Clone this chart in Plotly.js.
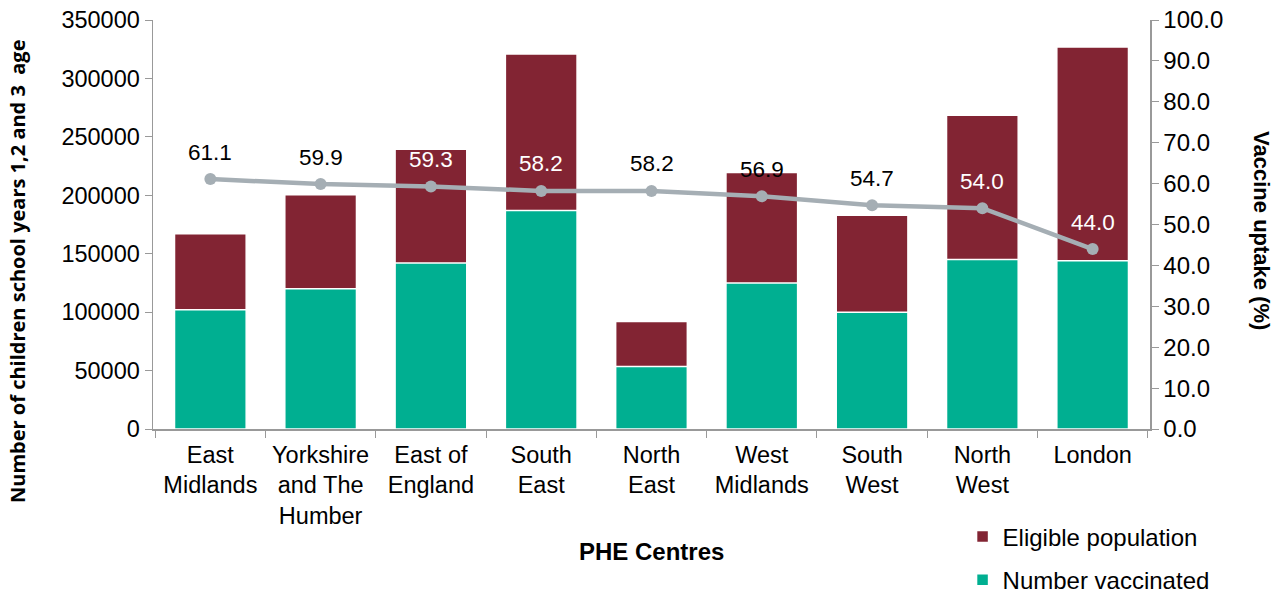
<!DOCTYPE html>
<html><head><meta charset="utf-8">
<script src="https://cdn.plot.ly/plotly-3.0.1.min.js"></script>
<style>body{margin:0;background:#fff}#c{width:1280px;height:596px}</style>
</head><body><div id="c"></div>
<script>
const categories = ["East<br>Midlands","Yorkshire<br>and The<br>Humber","East of<br>England","South<br>East","North<br>East","West<br>Midlands","South<br>West","North<br>West","London"];
const eligible = [167000, 200500, 239500, 321000, 92000, 219500, 183000, 268500, 327000];
const vaccinated = [102000, 120000, 142000, 187000, 53500, 125000, 100000, 145000, 144000];
const uptake = [61.1, 59.9, 59.3, 58.2, 58.2, 56.9, 54.7, 54.0, 44.0];
const labelColors = ["#000","#000","#fff","#fff","#000","#000","#000","#fff","#fff"];

const traces = [
  {type:'bar', x:categories, y:eligible, name:'Eligible population', marker:{color:'#822433', line:{color:'#fff', width:1.5}}, width:0.65, legendgroup:'a'},
  {type:'bar', x:categories, y:vaccinated, name:'Number vaccinated', marker:{color:'#00AF91', line:{color:'#fff', width:1.5}}, width:0.65, legendgroup:'b'},
  {type:'scatter', mode:'lines+markers', x:categories, y:uptake, yaxis:'y2', showlegend:false,
   line:{color:'#A5AEB4', width:4.5}, marker:{color:'#A5AEB4', size:12}}
];
const labelAnns = categories.map((c,i)=>({
  x:c, y:uptake[i], xref:'x', yref:'y2', text:uptake[i].toFixed(1), showarrow:false,
  yshift:27, font:{family:'Liberation Sans, Arial', size:22.5, color:labelColors[i]}
}));
const layout = {
  width:1280, height:596,
  margin:{l:153, r:130, t:20, b:167, autoexpand:false},
  barmode:'overlay',
  paper_bgcolor:'#fff', plot_bgcolor:'#fff',
  font:{family:'Liberation Sans, Arial', size:23, color:'#000'},
  xaxis:{showline:true, linecolor:'#999', linewidth:1.5, ticks:'outside', tickson:'boundaries', ticklen:7, tickcolor:'#999',
         tickfont:{size:23.5}, tickangle:0, ticklabelstandoff:4, automargin:false},
  yaxis:{range:[0,350000], dtick:50000, showgrid:false, zeroline:false, showline:true, linecolor:'#999', linewidth:1.5,
         ticks:'outside', ticklen:7, tickcolor:'#999', tickfont:{size:23.5}, tickformat:'d', automargin:false},
  yaxis2:{overlaying:'y', side:'right', range:[0,100], dtick:10, tickformat:'.1f', showgrid:false, zeroline:false,
          showline:true, linecolor:'#999', linewidth:1.5, ticks:'outside', ticklen:7, tickcolor:'#999', tickfont:{size:24}, automargin:false},
  annotations:labelAnns.concat([
    {text:'<b>Vaccine uptake (%)</b>', xref:'paper', yref:'paper', x:1.1123, y:0.484, textangle:90, showarrow:false,
     font:{size:22}, xanchor:'center', yanchor:'middle'},
    {text:'<b>Number of children school years 1,2 and 3  age</b>', xref:'paper', yref:'paper', x:-0.1354, y:0.384, textangle:-90, showarrow:false,
     font:{family:'Open Sans', size:20}, xanchor:'center', yanchor:'middle'},
    {text:'<b>PHE Centres</b>', xref:'paper', yref:'paper', x:0.5, y:-0.3, showarrow:false,
     font:{size:24}, xanchor:'center', yanchor:'middle'}
  ]),
  legend:{xref:'container', yref:'container', x:0.752, y:0.137, xanchor:'left', yanchor:'top', font:{size:24}, tracegroupgap:9,
          traceorder:'grouped', bgcolor:'rgba(0,0,0,0)'},
  showlegend:true
};
Plotly.newPlot('c', traces, layout, {displayModeBar:false, staticPlot:true});
</script></body></html>
